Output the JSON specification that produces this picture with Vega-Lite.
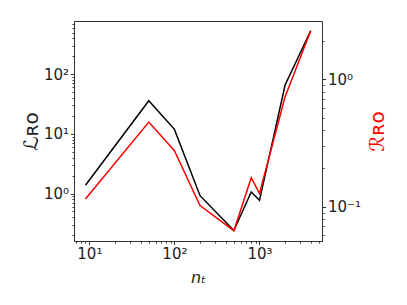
{
  "$schema": "https://vega.github.io/schema/vega-lite/v6.json",
  "width": 248,
  "height": 220,
  "autosize": {"type": "none"},
  "padding": {"left": 74, "top": 21, "right": 85, "bottom": 64},
  "background": "white",
  "config": {
    "view": {"stroke": "#333", "strokeWidth": 1},
    "axis": {
      "grid": false,
      "labelFont": "DejaVu Sans",
      "labelFontSize": 15,
      "labelColor": "#222",
      "titleFont": "DejaVu Sans",
      "titleFontWeight": "normal",
      "titleColor": "#222",
      "domainColor": "#333",
      "tickColor": "#333",
      "labelFlush": false,
      "labelOverlap": false,
      "labelBound": false
    }
  },
  "data": {
    "values": [
      {"n": 9, "L": 1.38, "R": 0.115},
      {"n": 50, "L": 36, "R": 0.462},
      {"n": 100, "L": 11.9, "R": 0.275},
      {"n": 200, "L": 0.92, "R": 0.102},
      {"n": 500, "L": 0.24, "R": 0.0648},
      {"n": 800, "L": 1.06, "R": 0.169},
      {"n": 1000, "L": 0.77, "R": 0.127},
      {"n": 2000, "L": 66, "R": 0.73},
      {"n": 4000, "L": 535, "R": 2.41}
    ]
  },
  "encoding": {
    "x": {
      "field": "n",
      "type": "quantitative",
      "scale": {"type": "log", "domain": [6.6, 5430], "nice": false},
      "axis": {
        "title": "nₜ",
        "titleFontStyle": "italic",
        "titleFontSize": 16,
        "titlePadding": 8,
        "values": [7, 8, 9, 10, 20, 30, 40, 50, 60, 70, 80, 90, 100, 200, 300, 400, 500, 600, 700, 800, 900, 1000, 2000, 3000, 4000, 5000],
        "labelExpr": "datum.value == 10 ? '10¹' : datum.value == 100 ? '10²' : datum.value == 1000 ? '10³' : ''",
        "tickSize": {"condition": {"test": "datum.value == 10 || datum.value == 100 || datum.value == 1000", "value": 3.5}, "value": 2},
        "labelPadding": 2
      }
    }
  },
  "layer": [
    {
      "mark": {"type": "line", "color": "black", "strokeWidth": 1.5},
      "encoding": {
        "y": {
          "field": "L",
          "type": "quantitative",
          "scale": {"type": "log", "domain": [0.16, 780], "nice": false},
          "axis": {
            "orient": "left",
            "title": "ℒʀᴏ",
            "titleFontSize": 20,
            "titlePadding": 2,
            "values": [0.2, 0.3, 0.4, 0.5, 0.6, 0.7, 0.8, 0.9, 1, 2, 3, 4, 5, 6, 7, 8, 9, 10, 20, 30, 40, 50, 60, 70, 80, 90, 100, 200, 300, 400, 500, 600, 700],
            "labelExpr": "datum.value == 1 ? '10⁰' : datum.value == 10 ? '10¹' : datum.value == 100 ? '10²' : ''",
            "tickSize": {"condition": {"test": "datum.value == 1 || datum.value == 10 || datum.value == 100", "value": 3.5}, "value": 2},
            "labelPadding": 2
          }
        }
      }
    },
    {
      "mark": {"type": "line", "color": "red", "strokeWidth": 1.5},
      "encoding": {
        "y": {
          "field": "R",
          "type": "quantitative",
          "scale": {"type": "log", "domain": [0.0538, 2.87], "nice": false},
          "axis": {
            "orient": "right",
            "title": "ℛʀᴏ",
            "titleColor": "red",
            "titleFontSize": 20,
            "titleAngle": 270,
            "titlePadding": 27,
            "values": [0.06, 0.07, 0.08, 0.09, 0.1, 0.2, 0.3, 0.4, 0.5, 0.6, 0.7, 0.8, 0.9, 1, 2],
            "labelExpr": "datum.value == 0.1 ? '10⁻¹' : datum.value == 1 ? '10⁰' : ''",
            "tickSize": {"condition": {"test": "datum.value == 0.1 || datum.value == 1", "value": 3.5}, "value": 2},
            "labelPadding": 2
          }
        }
      }
    }
  ],
  "resolve": {"scale": {"y": "independent"}}
}
